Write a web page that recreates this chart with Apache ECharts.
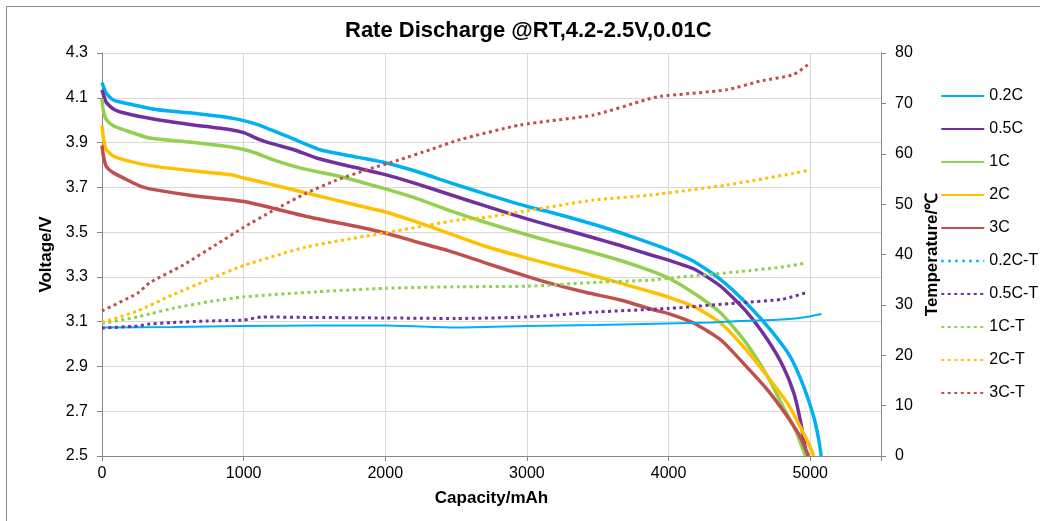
<!DOCTYPE html>
<html>
<head>
<meta charset="utf-8">
<script src="https://cdn.jsdelivr.net/npm/echarts@6/dist/echarts.min.js"></script>
<style>
  html, body { margin: 0; padding: 0; background: #fff; }
  #chart { width: 1040px; height: 521px; }
</style>
</head>
<body>
<div id="chart"></div>
<script>
// capacity (mAh) / voltage (V)
var cap02 = [0,30,80,150,380,620,900,1000,1100,1200,1330,1540,1800,2000,2200,2460,2700,3000,3160,3470,3660,3871,4000,4180,4370,4550,4720,4860,4955,5025,5060,5078];
var v02   = [4.168,4.12,4.09,4.078,4.048,4.033,4.011,3.998,3.98,3.955,3.922,3.868,3.835,3.81,3.775,3.72,3.672,3.615,3.59,3.535,3.497,3.451,3.421,3.369,3.287,3.182,3.063,2.943,2.809,2.675,2.575,2.5];

var cap05 = [0,30,80,150,380,620,900,1000,1114,1200,1350,1520,1750,2000,2200,2460,2700,3000,3160,3470,3660,3871,4000,4180,4370,4550,4700,4810,4885,4930,4975];
var v05   = [4.135,4.08,4.05,4.033,4.003,3.981,3.958,3.944,3.913,3.895,3.869,3.83,3.794,3.757,3.72,3.667,3.618,3.559,3.53,3.475,3.44,3.399,3.375,3.335,3.257,3.145,3.018,2.899,2.78,2.66,2.5];

var cap1 = [0,10,30,80,150,337,620,900,1001,1100,1200,1397,1700,2000,2200,2460,2700,3000,3160,3400,3660,3871,4000,4180,4370,4550,4700,4810,4900,4966];
var v1   = [4.095,4.04,4.003,3.975,3.958,3.92,3.902,3.881,3.869,3.85,3.825,3.787,3.745,3.693,3.655,3.595,3.545,3.488,3.46,3.42,3.373,3.328,3.295,3.227,3.138,3.003,2.854,2.719,2.61,2.5];

var cap2 = [0,10,30,80,150,337,620,900,1001,1200,1444,1800,2000,2200,2460,2700,3000,3160,3400,3660,3871,4000,4180,4370,4550,4700,4840,4930,5000,5025];
var v2   = [3.976,3.92,3.869,3.84,3.824,3.797,3.775,3.757,3.742,3.712,3.675,3.62,3.59,3.55,3.492,3.438,3.384,3.357,3.318,3.272,3.234,3.21,3.167,3.093,2.973,2.854,2.735,2.63,2.54,2.5];

var cap3 = [0,10,30,80,150,270,337,620,1001,1200,1444,1800,2000,2200,2460,2700,3000,3160,3420,3660,3900,4000,4180,4370,4550,4700,4840,4930,4975,4990];
var v3   = [3.887,3.84,3.794,3.765,3.742,3.705,3.693,3.665,3.637,3.608,3.57,3.525,3.496,3.46,3.414,3.364,3.302,3.272,3.23,3.197,3.152,3.136,3.093,3.018,2.899,2.794,2.675,2.585,2.52,2.5];

// capacity (mAh) / temperature (℃)
var capT02 = [0,500,1000,1500,2000,2500,3000,3500,4000,4300,4500,4800,4950,5080];
var t02    = [25.5,25.6,25.8,25.9,25.9,25.5,25.8,26.0,26.3,26.5,26.8,27.1,27.5,28.2];

var capT05 = [0,250,337,500,750,1001,1130,1500,2000,2500,3000,3500,4000,4500,4800,4982];
var t05    = [25.4,25.8,26.2,26.5,26.8,27.0,27.6,27.5,27.4,27.3,27.6,28.6,29.3,30.4,31.1,32.5];

var capT1 = [0,250,337,500,750,1001,1514,2000,2527,3000,3500,3871,4000,4500,4800,4950];
var t1    = [26.3,27.6,28.2,29.3,30.6,31.6,32.6,33.3,33.6,33.7,34.5,34.9,35.3,36.6,37.5,38.2];

var capT2 = [0,250,500,750,1000,1444,2000,2527,2669,3000,3470,3871,4410,4880,5002];
var t2    = [26.5,28.8,32.0,35.0,37.8,41.5,44.3,46.9,47.2,48.7,50.8,51.8,53.8,56.1,56.8];

var capT3 = [0,250,337,573,808,1001,1200,1444,1650,1868,2100,2316,2527,2950,3470,3850,3940,4410,4645,4880,4990];
var t3    = [28.8,32.3,34.4,37.9,42.0,45.4,48.6,52.2,54.7,56.8,58.8,60.8,62.8,65.7,67.7,70.8,71.4,72.7,74.4,75.7,77.8];

var names = ['0.2C','0.5C','1C','2C','3C','0.2C-T','0.5C-T','1C-T','2C-T','3C-T'];
var colors = ['#00B0F0','#7030A0','#92D050','#FFC000','#C0504D'];

function pairs(xs, ys)
{
    var out = [];
    for (var i = 0; i < xs.length; i++) {
        out.push([xs[i], ys[i]]);
    }
    return out;
}

var voltData = [pairs(cap02, v02), pairs(cap05, v05), pairs(cap1, v1), pairs(cap2, v2), pairs(cap3, v3)];
var tempData = [pairs(capT02, t02), pairs(capT05, t05), pairs(capT1, t1), pairs(capT2, t2), pairs(capT3, t3)];

var font = "'Liberation Sans', Arial, sans-serif";
var series = [];
for (var i = 0; i < 5; i++) {
    series.push({
        name: names[i],
        type: 'line',
        yAxisIndex: 0,
        symbol: 'none',
        smooth: 0.2,
        color: colors[i],
        lineStyle: { width: 3.5, color: colors[i], join: 'round' },
        data: voltData[i]
    });
}
for (var j = 0; j < 5; j++) {
    series.push({
        name: names[j + 5],
        type: 'line',
        yAxisIndex: 1,
        symbol: 'none',
        smooth: 0.2,
        color: colors[j],
        lineStyle: j === 0
            ? { width: 2, color: colors[j], type: 'solid' }
            : { width: 3, color: colors[j], type: [3, 3.5] },
        data: tempData[j]
    });
}

var legendData = names.map(function (n, k) {
    if (k === 5) {
        return { name: n, lineStyle: { type: [2.5, 4.5], width: 2.5 } };
    }
    return { name: n };
});

var myChart = echarts.init(document.getElementById('chart'));
var option = {
    animation: false,
    backgroundColor: '#fff',
    textStyle: { fontFamily: font },
    title: {
        text: 'Rate Discharge @RT,4.2-2.5V,0.01C',
        left: 345,
        top: 20,
        padding: 0,
        textStyle: { fontFamily: font, fontSize: 22, fontWeight: 'bold', color: '#000' }
    },
    graphic: [{
        type: 'rect',
        shape: { x: 6.5, y: 6.5, width: 1100, height: 600 },
        style: { fill: 'none', stroke: '#8c8c8c', lineWidth: 1 },
        silent: true
    }],
    legend: {
        orient: 'vertical',
        left: 940,
        top: 88,
        padding: 0,
        itemWidth: 43,
        itemHeight: 16,
        itemGap: 17,
        itemStyle: { color: 'rgba(0,0,0,0)', borderWidth: 0, opacity: 0 },
        textStyle: { fontFamily: font, fontSize: 16, color: '#000', lineHeight: 16 },
        data: legendData
    },
    grid: { left: 102, right: 159, top: 53, bottom: 65 },
    xAxis: {
        type: 'value',
        min: 0,
        max: 5500,
        interval: 1000,
        name: 'Capacity/mAh',
        nameLocation: 'middle',
        nameGap: 34,
        nameTextStyle: { fontFamily: font, fontSize: 17, fontWeight: 'bold', color: '#000' },
        axisLine: { lineStyle: { color: '#868686', width: 1 } },
        axisTick: { show: true, inside: false, length: 5, lineStyle: { color: '#868686' } },
        axisLabel: {
            margin: 10,
            fontFamily: font, fontSize: 16, color: '#000',
            formatter: function (v) { return v === 5500 ? '' : String(v); }
        },
        splitLine: { show: true, lineStyle: { color: '#d9d9d9', width: 1 } }
    },
    yAxis: [{
        type: 'value',
        min: 2.5,
        max: 4.3,
        interval: 0.2,
        name: 'Voltage/V',
        nameLocation: 'middle',
        nameRotate: 90,
        nameGap: 45,
        nameTextStyle: { fontFamily: font, fontSize: 17, fontWeight: 'bold', color: '#000' },
        axisLine: { show: true, lineStyle: { color: '#868686', width: 1 } },
        axisTick: { show: true, inside: false, length: 5, lineStyle: { color: '#868686' } },
        axisLabel: {
            margin: 14,
            fontFamily: font, fontSize: 16, color: '#000',
            formatter: function (v) { return v.toFixed(1); }
        },
        splitLine: { show: true, lineStyle: { color: '#d9d9d9', width: 1 } }
    }, {
        type: 'value',
        position: 'right',
        min: 0,
        max: 80,
        interval: 10,
        name: 'Temperature/℃',
        nameLocation: 'middle',
        nameRotate: 90,
        nameGap: 43,
        nameTextStyle: { fontFamily: font, fontSize: 17, fontWeight: 'bold', color: '#000' },
        axisLine: { show: true, lineStyle: { color: '#868686', width: 1 } },
        axisTick: { show: true, inside: false, length: 5, lineStyle: { color: '#868686' } },
        axisLabel: { margin: 14, fontFamily: font, fontSize: 16, color: '#000' },
        splitLine: { show: false }
    }],
    series: series
};
myChart.setOption(option);
</script>
</body>
</html>
